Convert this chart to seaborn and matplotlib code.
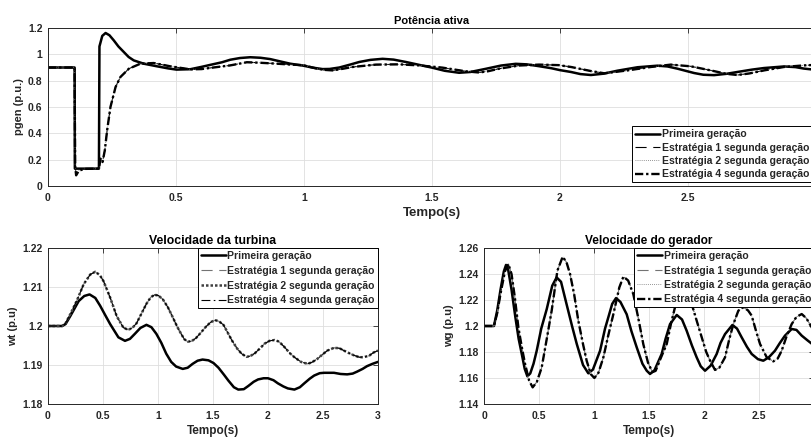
import matplotlib
matplotlib.use("Agg")
import matplotlib.pyplot as plt
import seaborn as sns
from matplotlib.ticker import FuncFormatter

# ---- data ----
labels = ["Primeira geração", "Estratégia 1 segunda geração",
          "Estratégia 2 segunda geração", "Estratégia 4 segunda geração"]

# active power, first generation
pgen_t1 = [0, 0.104, 0.105, 0.199, 0.201, 0.212, 0.225, 0.24, 0.257, 0.275, 0.296, 0.315,
           0.335, 0.374, 0.426, 0.47, 0.502, 0.556, 0.6, 0.634, 0.68, 0.712, 0.75, 0.79,
           0.83, 0.868, 0.91, 0.946, 0.997, 1.034, 1.073, 1.1, 1.138, 1.18, 1.216, 1.26,
           1.307, 1.35, 1.398, 1.45, 1.5, 1.55, 1.606, 1.65, 1.71, 1.77, 1.827, 1.87,
           1.918, 1.965, 2.0, 2.043, 2.08, 2.121, 2.17, 2.225, 2.303, 2.381, 2.42, 2.459,
           2.524, 2.56, 2.602, 2.65, 2.693, 2.75, 2.797, 2.875, 2.92, 2.952, 3.0]
pgen_v1 = [0.9, 0.9, 0.132, 0.132, 1.06, 1.14, 1.162, 1.145, 1.106, 1.06, 1.018, 0.98,
           0.954, 0.929, 0.909, 0.893, 0.884, 0.887, 0.905, 0.92, 0.94, 0.959, 0.972, 0.978,
           0.974, 0.964, 0.945, 0.929, 0.914, 0.899, 0.888, 0.889, 0.9, 0.922, 0.942, 0.958,
           0.966, 0.96, 0.942, 0.92, 0.899, 0.875, 0.86, 0.866, 0.89, 0.915, 0.928, 0.924,
           0.91, 0.895, 0.88, 0.866, 0.85, 0.843, 0.853, 0.876, 0.902, 0.914, 0.908, 0.891,
           0.858, 0.845, 0.842, 0.852, 0.866, 0.884, 0.896, 0.908, 0.903, 0.892, 0.882]

# active power, second generation strategies (curves overlap)
pgen_t2 = [0, 0.104, 0.106, 0.11, 0.12, 0.14, 0.199, 0.205, 0.213, 0.222, 0.231, 0.244,
           0.264, 0.283, 0.316, 0.361, 0.413, 0.478, 0.556, 0.6, 0.634, 0.712, 0.777,
           0.829, 0.894, 0.95, 0.997, 1.047, 1.08, 1.112, 1.15, 1.19, 1.281, 1.372, 1.45,
           1.541, 1.632, 1.684, 1.72, 1.762, 1.84, 1.918, 1.995, 2.043, 2.121, 2.173,
           2.264, 2.355, 2.433, 2.511, 2.589, 2.65, 2.693, 2.74, 2.797, 2.875, 2.952, 3.0]
pgen_v2 = [0.9, 0.9, 0.15, 0.081, 0.115, 0.13, 0.132, 0.208, 0.182, 0.271, 0.423, 0.6,
           0.752, 0.828, 0.891, 0.929, 0.934, 0.909, 0.886, 0.888, 0.897, 0.916, 0.94,
           0.936, 0.929, 0.922, 0.918, 0.893, 0.882, 0.878, 0.89, 0.904, 0.922, 0.924, 0.916,
           0.899, 0.871, 0.862, 0.872, 0.891, 0.915, 0.922, 0.918, 0.904, 0.873, 0.856,
           0.878, 0.904, 0.922, 0.909, 0.878, 0.852, 0.843, 0.855, 0.878, 0.904, 0.916, 0.92]

# turbine speed
wt_t1 = [0, 0.129, 0.16, 0.204, 0.279, 0.33, 0.378, 0.43, 0.474, 0.52, 0.565, 0.64, 0.7,
         0.745, 0.79, 0.84, 0.895, 0.94, 0.985, 1.03, 1.075, 1.12, 1.165, 1.225, 1.27,
         1.315, 1.36, 1.405, 1.459, 1.505, 1.55, 1.6, 1.64, 1.69, 1.73, 1.78, 1.82, 1.87,
         1.91, 1.96, 2.0, 2.05, 2.09, 2.14, 2.18, 2.24, 2.29, 2.33, 2.38, 2.42, 2.47, 2.51,
         2.6, 2.66, 2.72, 2.77, 2.81, 2.86, 2.9, 2.95, 3.0]
wt_v1 = [1.2, 1.2, 1.2005, 1.2026, 1.2064, 1.2077, 1.2081, 1.2072, 1.2052, 1.2028, 1.2005,
         1.1971, 1.1962, 1.1967, 1.198, 1.1995, 1.2003, 1.1997, 1.198, 1.1957, 1.1929,
         1.1908, 1.1896, 1.189, 1.1893, 1.1903, 1.1911, 1.1914, 1.1912, 1.1905, 1.1893,
         1.1875, 1.186, 1.1843, 1.1837, 1.1838, 1.1846, 1.1857, 1.1863, 1.1866, 1.1866,
         1.1861, 1.1853, 1.1845, 1.184, 1.1837, 1.1843, 1.1853, 1.1865, 1.1873, 1.1879,
         1.188, 1.188, 1.1877, 1.1876, 1.1878, 1.1883, 1.189, 1.1897, 1.1903, 1.1908]

wt_t2 = [0, 0.129, 0.16, 0.204, 0.264, 0.324, 0.384, 0.429, 0.47, 0.505, 0.565, 0.625,
         0.685, 0.73, 0.77, 0.805, 0.85, 0.895, 0.935, 0.97, 1.005, 1.045, 1.09, 1.135,
         1.175, 1.21, 1.24, 1.27, 1.305, 1.345, 1.39, 1.435, 1.48, 1.52, 1.555, 1.595,
         1.63, 1.67, 1.72, 1.76, 1.805, 1.84, 1.88, 1.925, 1.97, 2.015, 2.06, 2.1, 2.15,
         2.2, 2.24, 2.3, 2.36, 2.4, 2.45, 2.5, 2.54, 2.6, 2.65, 2.69, 2.74, 2.78, 2.83,
         2.87, 2.92, 2.96, 3.0]
wt_v2 = [1.2, 1.2, 1.2007, 1.2031, 1.2066, 1.2107, 1.2132, 1.2139, 1.2131, 1.2115, 1.2073,
         1.2025, 1.1996, 1.199, 1.1996, 1.2007, 1.2032, 1.2057, 1.2074, 1.208, 1.2078,
         1.2068, 1.2048, 1.2022, 1.1998, 1.198, 1.1966, 1.196, 1.1961, 1.1969, 1.1983,
         1.1998, 1.201, 1.2015, 1.2012, 1.2003, 1.1985, 1.1964, 1.1942, 1.1929, 1.1921,
         1.1923, 1.193, 1.1942, 1.1955, 1.1962, 1.1964, 1.196, 1.1946, 1.193, 1.192,
         1.1908, 1.1903, 1.1907, 1.1916, 1.1928, 1.1937, 1.1944, 1.1943, 1.1937, 1.193,
         1.1925, 1.192, 1.192, 1.1924, 1.1932, 1.1937]

# generator speed
wg_t1 = [0, 0.09, 0.12, 0.15, 0.18, 0.2, 0.22, 0.25, 0.285, 0.315, 0.343, 0.37, 0.394,
         0.42, 0.45, 0.479, 0.52, 0.57, 0.62, 0.66, 0.7, 0.75, 0.8, 0.843, 0.9, 0.948,
         0.99, 1.055, 1.1, 1.13, 1.165, 1.2, 1.24, 1.297, 1.34, 1.388, 1.44, 1.479, 1.509,
         1.55, 1.615, 1.65, 1.691, 1.752, 1.8, 1.842, 1.89, 1.933, 1.97, 2.009, 2.06,
         2.115, 2.15, 2.191, 2.258, 2.3, 2.342, 2.39, 2.433, 2.49, 2.539, 2.59, 2.645,
         2.69, 2.736, 2.797, 2.84, 2.888, 2.94, 3.0]
wg_v1 = [1.2, 1.2, 1.212, 1.228, 1.242, 1.247, 1.243, 1.228, 1.2067, 1.19, 1.1785, 1.167,
         1.1613, 1.1635, 1.171, 1.181, 1.198, 1.213, 1.231, 1.2374, 1.234, 1.2169, 1.2,
         1.1862, 1.17, 1.1636, 1.1665, 1.181, 1.198, 1.2067, 1.217, 1.2215, 1.2185, 1.209,
         1.196, 1.1836, 1.171, 1.1656, 1.1631, 1.166, 1.1785, 1.19, 1.2015, 1.2085, 1.205,
         1.1964, 1.185, 1.1759, 1.169, 1.1656, 1.1695, 1.1785, 1.187, 1.1938, 1.2008, 1.198,
         1.1913, 1.184, 1.1785, 1.1745, 1.1733, 1.176, 1.181, 1.187, 1.1926, 1.1977, 1.197,
         1.1926, 1.189, 1.185]

wg_t2 = [0, 0.09, 0.12, 0.15, 0.19, 0.221, 0.25, 0.28, 0.312, 0.345, 0.373, 0.41, 0.442,
         0.48, 0.524, 0.57, 0.615, 0.667, 0.715, 0.75, 0.782, 0.82, 0.857, 0.9, 0.933,
         0.97, 1.003, 1.04, 1.085, 1.13, 1.176, 1.23, 1.267, 1.31, 1.357, 1.4, 1.448, 1.49,
         1.53, 1.56, 1.6, 1.661, 1.7, 1.736, 1.767, 1.8, 1.84, 1.888, 1.93, 1.979, 2.02,
         2.055, 2.1, 2.14, 2.191, 2.23, 2.267, 2.312, 2.358, 2.4, 2.433, 2.47, 2.509, 2.57,
         2.63, 2.67, 2.706, 2.75, 2.797, 2.84, 2.888, 2.93, 2.979, 3.0]
wg_v2 = [1.2, 1.2, 1.21, 1.225, 1.242, 1.2477, 1.24, 1.222, 1.199, 1.183, 1.1708, 1.158,
         1.1528, 1.157, 1.168, 1.19, 1.2118, 1.2426, 1.2533, 1.249, 1.24, 1.224, 1.2041,
         1.186, 1.1733, 1.163, 1.16, 1.164, 1.1759, 1.193, 1.2092, 1.2297, 1.238, 1.235,
         1.2246, 1.207, 1.186, 1.172, 1.1645, 1.1655, 1.174, 1.1862, 1.202, 1.2144, 1.221,
         1.224, 1.222, 1.2169, 1.205, 1.1913, 1.18, 1.1733, 1.1662, 1.168, 1.1759, 1.19,
         1.2015, 1.2118, 1.2144, 1.212, 1.208, 1.197, 1.1862, 1.1759, 1.1728, 1.175, 1.181,
         1.192, 1.2015, 1.207, 1.2092, 1.206, 1.199, 1.196]

# ---- style ----
sns.set_style("whitegrid")
plt.rcParams["font.family"] = ["Liberation Sans", "DejaVu Sans"]
plt.rcParams["font.weight"] = "bold"
plt.rcParams["axes.labelweight"] = "bold"
plt.rcParams["axes.titleweight"] = "bold"

fig = plt.figure(figsize=(8.12, 4.41), dpi=100)
ax_top = fig.add_axes([0.0591, 0.5782, 0.9458, 0.3583])
ax_wt = fig.add_axes([0.0591, 0.0839, 0.4064, 0.3537])
ax_wg = fig.add_axes([0.5961, 0.0839, 0.4064, 0.3537])

thick_dd = dict(color="black", lw=1.7, dashes=(3.5, 1.2, 1, 1.2))
thin_dash = dict(color="black", lw=0.8, dashes=(10, 6))
thin_dot = dict(color="0.45", lw=0.6, dashes=(1, 1.5))


def draw(ax, t1, v1, t2, v2, s1, s2, s4):
    sns.lineplot(x=t1, y=v1, ax=ax, color="black", lw=1.8, label=labels[0],
                 estimator=None, sort=False)
    sns.lineplot(x=t2, y=v2, ax=ax, label=labels[1], estimator=None, sort=False, **s1)
    sns.lineplot(x=t2, y=v2, ax=ax, label=labels[2], estimator=None, sort=False, **s2)
    sns.lineplot(x=t2, y=v2, ax=ax, label=labels[3], estimator=None, sort=False, **s4)


draw(ax_top, pgen_t1, pgen_v1, pgen_t2, pgen_v2, thin_dash, thin_dot, thick_dd)
draw(ax_wt, wt_t1, wt_v1, wt_t2, wt_v2,
     dict(color="0.45", lw=0.8, dashes=(10, 6)),
     dict(color="0.25", lw=1.8, dashes=(1, 0.8)),
     dict(color="black", lw=0.8, dashes=(8, 3, 1.5, 3)))
draw(ax_wg, wg_t1, wg_v1, wg_t2, wg_v2,
     dict(color="0.45", lw=0.8, dashes=(10, 6)), thin_dot, thick_dd)

fmt = FuncFormatter(lambda v, p: f"{v:g}")
# (axes, title, title size, y label, x label size, y limits, y ticks, x ticks, legend loc, legend pad, row gap)
settings = [
    (ax_top, "Potência ativa", 8, "pgen (p.u.)", 9.5, (0, 1.2), [0, 0.2, 0.4, 0.6, 0.8, 1, 1.2],
     [0, 0.5, 1, 1.5, 2, 2.5], "lower right", 0.35, 0.32),
    (ax_wt, "Velocidade da turbina", 8.8, "wt (p.u)", 8.5, (1.18, 1.22), [1.18, 1.19, 1.2, 1.21, 1.22],
     [0, 0.5, 1, 1.5, 2, 2.5, 3], "upper right", 0.0, 0.45),
    (ax_wg, "Velocidade do gerador", 8.6, "wg (p.u)", 8.5, (1.14, 1.26), [1.14, 1.16, 1.18, 1.2, 1.22, 1.24, 1.26],
     [0, 0.5, 1, 1.5, 2, 2.5], "upper right", 0.0, 0.42),
]
for ax, title, tsize, ylab, xlsize, ylim, yt, xt, loc, bpad, lspace in settings:
    ax.set_xlim(0, 3)
    ax.set_ylim(*ylim)
    ax.set_xticks(xt)
    ax.set_yticks(yt)
    ax.xaxis.set_major_formatter(fmt)
    ax.yaxis.set_major_formatter(fmt)
    ax.set_title(title, fontsize=tsize, pad=3, color="black")
    ax.set_xlabel("Tempo(s)", fontsize=xlsize, labelpad=3, color="#262626")
    ax.set_ylabel(ylab, fontsize=8, labelpad=3, color="#262626")
    ax.grid(True, color="#dedede", lw=0.6)
    ax.tick_params(direction="in", top=True, right=True, length=3.5, width=0.6,
                   labelsize=7.5, colors="#262626")
    ax.tick_params(axis="x", pad=5)
    ax.tick_params(axis="y", pad=4)
    for sp in ax.spines.values():
        sp.set_visible(True)
        sp.set_color("#262626")
        sp.set_linewidth(0.7)
    leg = ax.legend(loc=loc, fontsize=7.5, frameon=True, fancybox=False, framealpha=1,
                    borderpad=0.3, labelspacing=lspace, handlelength=2.4, handletextpad=0.15,
                    borderaxespad=bpad)
    leg.get_frame().set_edgecolor("black")
    leg.get_frame().set_linewidth(0.7)

fig.savefig("out.png", dpi=100)
